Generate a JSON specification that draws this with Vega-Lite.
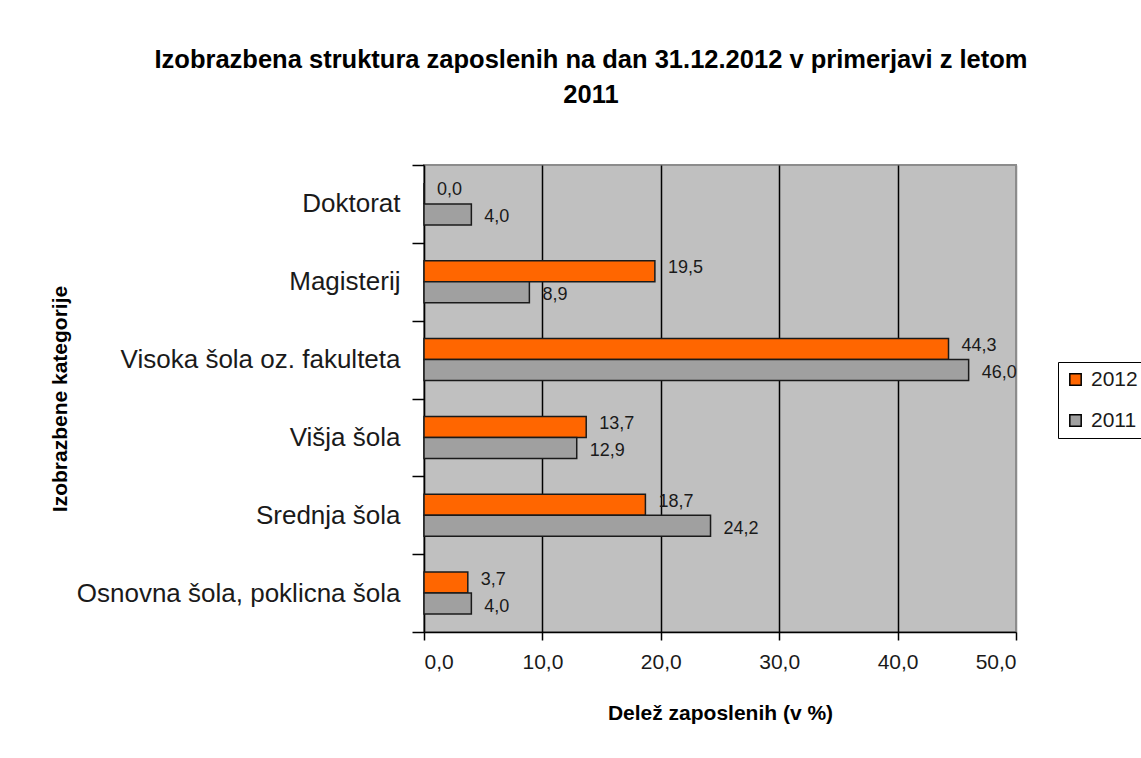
{
  "$schema": "https://vega.github.io/schema/vega-lite/v6.json",
  "autosize": "none",
  "width": 592,
  "height": 467,
  "padding": {"left": 424, "top": 165, "right": 125, "bottom": 126},
  "background": "white",
  "config": {
    "locale": {"number": {"decimal": ",", "thousands": ".", "grouping": [3], "currency": ["", " €"]}},
    "font": "Liberation Sans",
    "view": {"fill": "#c0c0c0", "stroke": "#8c8c8c", "strokeWidth": 2}
  },
  "title": {
    "text": ["Izobrazbena struktura zaposlenih na dan 31.12.2012  v primerjavi z letom", "2011"],
    "fontSize": 25.5,
    "fontWeight": "bold",
    "font": "Liberation Sans",
    "color": "black",
    "anchor": "middle",
    "frame": "group",
    "dx": -129,
    "offset": 44,
    "lineHeight": 35
  },
  "data": {
    "values": [
      {"kategorija": "Doktorat", "leto": "2012", "delez": 0.0},
      {"kategorija": "Doktorat", "leto": "2011", "delez": 4.0},
      {"kategorija": "Magisterij", "leto": "2012", "delez": 19.5},
      {"kategorija": "Magisterij", "leto": "2011", "delez": 8.9},
      {"kategorija": "Visoka šola oz. fakulteta", "leto": "2012", "delez": 44.3},
      {"kategorija": "Visoka šola oz. fakulteta", "leto": "2011", "delez": 46.0},
      {"kategorija": "Višja šola", "leto": "2012", "delez": 13.7},
      {"kategorija": "Višja šola", "leto": "2011", "delez": 12.9},
      {"kategorija": "Srednja šola", "leto": "2012", "delez": 18.7},
      {"kategorija": "Srednja šola", "leto": "2011", "delez": 24.2},
      {"kategorija": "Osnovna šola, poklicna šola", "leto": "2012", "delez": 3.7},
      {"kategorija": "Osnovna šola, poklicna šola", "leto": "2011", "delez": 4.0}
    ]
  },
  "encoding": {
    "y": {
      "field": "kategorija",
      "type": "nominal",
      "sort": ["Doktorat", "Magisterij", "Visoka šola oz. fakulteta", "Višja šola", "Srednja šola", "Osnovna šola, poklicna šola"],
      "scale": {"paddingInner": 0, "paddingOuter": 0},
      "axis": {
        "title": "Izobrazbene kategorije",
        "titleFontSize": 21,
        "titleFontWeight": "bold",
        "titleColor": "black",
        "titleX": -354,
        "labelFontSize": 26,
        "labelColor": "#1a1a1a",
        "labelPadding": 12,
        "labelLimit": 500,
        "tickBand": "extent",
        "tickSize": 12,
        "tickColor": "black",
        "domainColor": "black",
        "domainWidth": 1.5,
        "tickWidth": 1.5,
        "grid": false
      }
    },
    "yOffset": {"field": "leto", "type": "nominal", "sort": ["2012", "2011"], "scale": {"paddingInner": 0, "paddingOuter": 0.85}},
    "x": {
      "field": "delez",
      "type": "quantitative",
      "scale": {"domain": [0, 50]},
      "axis": {
        "title": "Delež zaposlenih (v %)",
        "titleFontSize": 21,
        "titleFontWeight": "bold",
        "titleColor": "black",
        "titlePadding": 30,
        "values": [0, 10, 20, 30, 40, 50],
        "format": ".1f",
        "labelFontSize": 21,
        "labelColor": "#1a1a1a",
        "labelPadding": 11,
        "tickSize": 8,
        "tickColor": "black",
        "tickWidth": 1.5,
        "domainColor": "black",
        "domainWidth": 1.5,
        "grid": true,
        "gridColor": {"condition": {"test": "datum.value == 50 || datum.value == 0", "value": "#8c8c8c"}, "value": "black"},
        "gridWidth": 1.5,
        "gridOpacity": 1
      }
    }
  },
  "layer": [
    {
      "mark": {"type": "bar", "stroke": "#1a1a1a", "strokeWidth": 1.5},
      "encoding": {
        "color": {
          "field": "leto",
          "type": "nominal",
          "scale": {"domain": ["2012", "2011"], "range": ["#ff6600", "#a0a0a0"]},
          "legend": {
            "title": null,
            "orient": "none",
            "legendX": 634,
            "legendY": 197,
            "symbolType": "square",
            "symbolSize": 130,
            "symbolStrokeColor": "black",
            "symbolStrokeWidth": 1.5,
            "labelFontSize": 21,
            "labelColor": "#1a1a1a",
            "rowPadding": 19,
            "padding": 7,
            "strokeColor": "black",
            "fillColor": "white",
            "labelOffset": 5
          }
        }
      }
    },
    {
      "transform": [{"filter": "datum.leto == '2012'"}],
      "mark": {"type": "text", "align": "left", "baseline": "middle", "dx": 13, "dy": -3, "fontSize": 18, "color": "#1a1a1a"},
      "encoding": {"text": {"field": "delez", "type": "quantitative", "format": ".1f"}}
    },
    {
      "transform": [{"filter": "datum.leto == '2011'"}],
      "mark": {"type": "text", "align": "left", "baseline": "middle", "dx": 13, "dy": 3, "fontSize": 18, "color": "#1a1a1a"},
      "encoding": {"text": {"field": "delez", "type": "quantitative", "format": ".1f"}}
    }
  ]
}
